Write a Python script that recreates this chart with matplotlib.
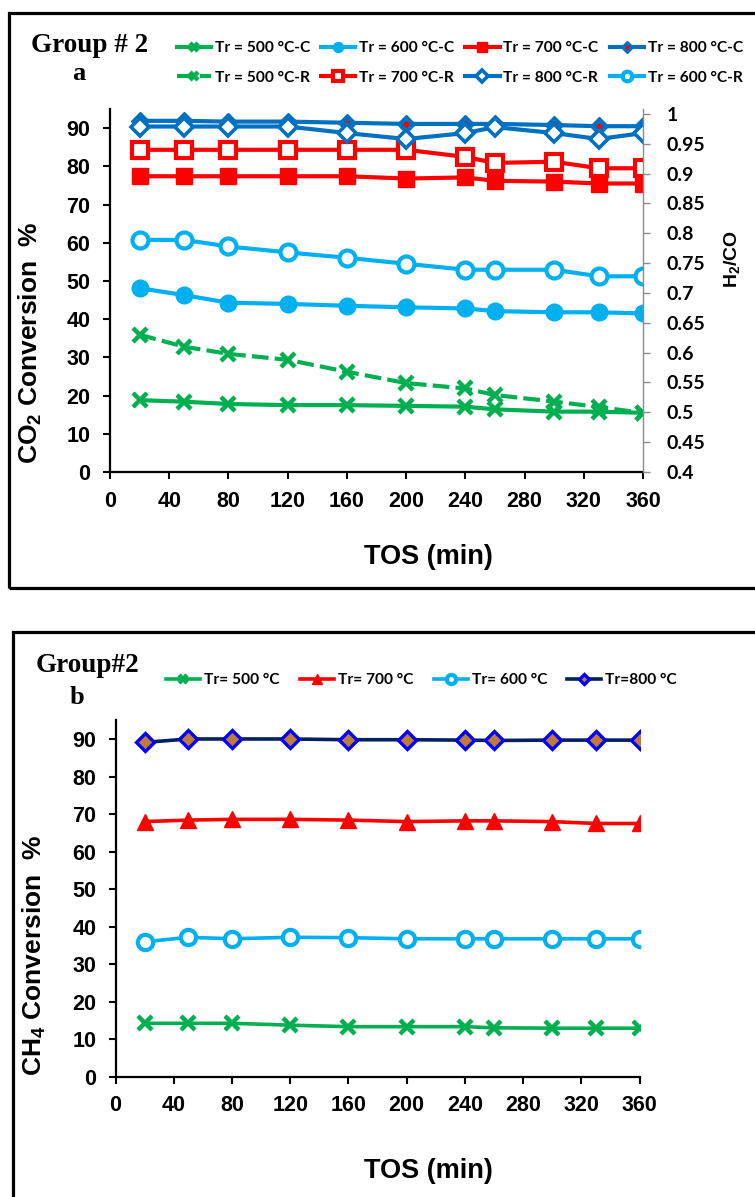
import numpy as np
import matplotlib
matplotlib.use("Agg")
import matplotlib.pyplot as plt
from matplotlib.patches import Rectangle
from matplotlib.legend_handler import HandlerTuple

plt.rcParams["font.family"] = ["Liberation Sans", "DejaVu Sans"]
plt.rcParams["font.weight"] = "bold"
plt.rcParams["mathtext.fontset"] = "custom"
plt.rcParams["mathtext.rm"] = "Liberation Sans:bold"
plt.rcParams["mathtext.bf"] = "Liberation Sans:bold"

# ---- data -------------------------------------------------------------
tos = [20, 50, 80, 120, 160, 200, 240, 260, 300, 330, 360]

# CO2 conversion (%) – left axis
co2_500 = [18.8, 18.4, 17.8, 17.5, 17.5, 17.3, 17.1, 16.4, 15.8, 15.8, 15.5]
co2_600 = [48.1, 46.3, 44.3, 44.0, 43.5, 43.1, 42.8, 42.1, 41.8, 41.8, 41.5]
co2_700 = [77.4, 77.4, 77.4, 77.4, 77.4, 76.8, 77.1, 76.2, 76.0, 75.5, 75.5]
co2_800 = [91.9, 91.9, 91.7, 91.7, 91.4, 91.1, 91.1, 91.1, 90.8, 90.5, 90.5]

# H2/CO ratio – right axis
h2co_500 = [0.630, 0.610, 0.598, 0.588, 0.568, 0.549, 0.540, 0.529, 0.518, 0.509, 0.499]
h2co_600 = [0.789, 0.789, 0.778, 0.768, 0.759, 0.749, 0.739, 0.739, 0.739, 0.728, 0.728]
h2co_700 = [0.940, 0.940, 0.940, 0.940, 0.940, 0.940, 0.928, 0.918, 0.920, 0.909, 0.909]
h2co_800 = [0.979, 0.979, 0.979, 0.979, 0.968, 0.958, 0.968, 0.978, 0.968, 0.958, 0.968]

# CH4 conversion (%)
ch4_500 = [14.3, 14.3, 14.3, 13.8, 13.4, 13.4, 13.4, 13.1, 13.0, 13.0, 13.0]
ch4_600 = [36.0, 37.2, 36.8, 37.2, 37.1, 36.8, 36.8, 36.8, 36.8, 36.8, 36.8]
ch4_700 = [68.0, 68.4, 68.6, 68.6, 68.4, 68.0, 68.2, 68.2, 68.0, 67.5, 67.5]
ch4_800 = [89.1, 90.0, 90.0, 90.0, 89.8, 89.8, 89.7, 89.6, 89.7, 89.7, 89.7]

x_ticks = list(range(0, 361, 40))
y_ticks = list(range(0, 91, 10))
ratio_ticks = [0.4, 0.45, 0.5, 0.55, 0.6, 0.65, 0.7, 0.75, 0.8, 0.85, 0.9, 0.95, 1.0]

GREEN = "#00B050"
CYAN = "#00B0F0"
RED = "#FF0000"
BLUE = "#0070C0"

W, H = 755, 1197
fig = plt.figure(figsize=(W / 100, H / 100), dpi=100)


def fx(px):
    return px / W


def fy(py):
    return 1 - py / H


# panel frames
fig.add_artist(Rectangle((fx(9), fy(588)), 1.2, fy(13) - fy(588), transform=fig.transFigure,
                         fill=False, lw=2.3, ec="black"))
fig.add_artist(Rectangle((fx(13), -0.2), 1.2, fy(632) + 0.2, transform=fig.transFigure,
                         fill=False, lw=2.3, ec="black"))


def style_axis(ax, tick_pad_x):
    ax.set_xlim(0, 360)
    ax.set_ylim(0, 95)
    ax.set_xticks(x_ticks)
    ax.set_yticks(y_ticks)
    for s in ("top", "right"):
        ax.spines[s].set_visible(False)
    for s in ("left", "bottom"):
        ax.spines[s].set_linewidth(1.6)
    ax.tick_params(axis="y", direction="out", length=5, width=1.5, pad=9, labelsize=15.5)
    ax.tick_params(axis="x", direction="out", length=5, width=1.5, pad=tick_pad_x, labelsize=15.5)


# ---- panel a -----------------------------------------------------------
ax1 = fig.add_axes([fx(110), fy(472), fx(643) - fx(110), fy(109) - fy(472)])
style_axis(ax1, 9)
ax2 = ax1.twinx()
ax2.set_ylim(0.4, 0.4 + 363 / 596.7)
ax2.set_yticks(ratio_ticks)
ax2.set_yticklabels([f"{v:g}" for v in ratio_ticks])
for s in ("top", "left", "bottom"):
    ax2.spines[s].set_visible(False)
ax2.spines["right"].set_color("#8C8C8C")
ax2.spines["right"].set_linewidth(1.0)
ax2.tick_params(axis="y", direction="out", length=5, width=1.0, color="#8C8C8C", pad=12,
                labelsize=14)
for t in ax2.get_yticklabels():
    t.set_fontfamily("Lato")

lw = 3.0
h500c, = ax1.plot(tos, co2_500, color=GREEN, lw=lw, marker="x", ms=10, mew=3.2)
h600c, = ax1.plot(tos, co2_600, color=CYAN, lw=lw, marker="o", ms=12)
h700c, = ax1.plot(tos, co2_700, color=RED, lw=lw, marker="s", ms=12)
h800c, = ax1.plot(tos, co2_800, color=BLUE, lw=lw, marker="D", ms=9.5, mfc=BLUE, mec=BLUE)
h800c_dot, = ax1.plot(tos, co2_800, ls="none", marker="o", ms=3, mfc=RED, mec=RED)

h500r, = ax2.plot(tos, h2co_500, color=GREEN, lw=lw, ls=(0, (4, 1.5)), marker="x", ms=10, mew=3.2)
h700r, = ax2.plot(tos, h2co_700, color=RED, lw=lw, marker="s", ms=11.5, mfc="white", mew=3)
h800r, = ax2.plot(tos, h2co_800, color=BLUE, lw=lw, marker="D", ms=9.5, mfc="white", mew=2.6)
h600r, = ax2.plot(tos, h2co_600, color=CYAN, lw=lw, marker="o", ms=11.5, mfc="white", mew=3)

fig.text(fx(30), fy(343), "CO$_{2}$ Conversion  %", rotation=90, ha="center", va="center",
         fontsize=19)
fig.text(fx(733), fy(259), "H$_{2}$/CO", rotation=90, ha="center", va="center", fontsize=14)
fig.text(fx(428), fy(557), "TOS (min)", ha="center", va="center", fontsize=19.5)
fig.text(fx(90), fy(46), "Group # 2", ha="center", va="center", fontsize=19.5,
         family="Liberation Serif")
fig.text(fx(79), fy(74), "a", ha="center", va="center", fontsize=19, family="Liberation Serif")

leg_handles = [h500c, h500r, h600c, h700r, h700c, h800r, (h800c, h800c_dot), h600r]
leg_labels = ["Tr = 500 °C-C", "Tr = 500 °C-R", "Tr = 600 °C-C", "Tr = 700 °C-R",
              "Tr = 700 °C-C", "Tr = 800 °C-R", "Tr = 800 °C-C", "Tr = 600 °C-R"]
fig.legend(leg_handles, leg_labels, ncol=4, loc="center left",
           bbox_to_anchor=(fx(163), fy(63)), frameon=False,
           prop={"family": "Lato", "weight": "bold", "size": 11.2},
           handlelength=2.2, handletextpad=0.25, columnspacing=0.7, labelspacing=1.0,
           markerscale=0.6, handler_map={tuple: HandlerTuple(ndivide=1)})

# ---- panel b -----------------------------------------------------------
ax3 = fig.add_axes([fx(115.6), fy(1077), fx(639.5) - fx(115.6), fy(720.2) - fy(1077)])
style_axis(ax3, 8)

lw2 = 2.6
g500, = ax3.plot(tos, ch4_500, color=GREEN, lw=lw2, marker="x", ms=10, mew=3.2)
g700, = ax3.plot(tos, ch4_700, color=RED, lw=lw2, marker="^", ms=12)
g600, = ax3.plot(tos, ch4_600, color=CYAN, lw=lw2, marker="o", ms=11, mfc="white", mew=3)
g800, = ax3.plot(tos, ch4_800, color="#002060", lw=lw2, marker="D", ms=9, mfc="#C07A3A",
                 mec="#0000FF", mew=2.4)

fig.text(fx(34), fy(955), "CH$_{4}$ Conversion  %", rotation=90, ha="center", va="center",
         fontsize=19)
fig.text(fx(428), fy(1171), "TOS (min)", ha="center", va="center", fontsize=19.5)
fig.text(fx(87), fy(665), "Group#2", ha="center", va="center", fontsize=19.5,
         family="Liberation Serif")
fig.text(fx(77), fy(698), "b", ha="center", va="center", fontsize=19, family="Liberation Serif")

fig.legend([g500, g700, g600, g800], ["Tr= 500 °C", "Tr= 700 °C", "Tr= 600 °C", "Tr=800 °C"],
           ncol=4, loc="center left", bbox_to_anchor=(fx(152), fy(680)), frameon=False,
           prop={"family": "Lato", "weight": "bold", "size": 11.2},
           handlelength=2.2, handletextpad=0.25, columnspacing=1.3, markerscale=0.6)

fig.savefig("out.png", dpi=100)
